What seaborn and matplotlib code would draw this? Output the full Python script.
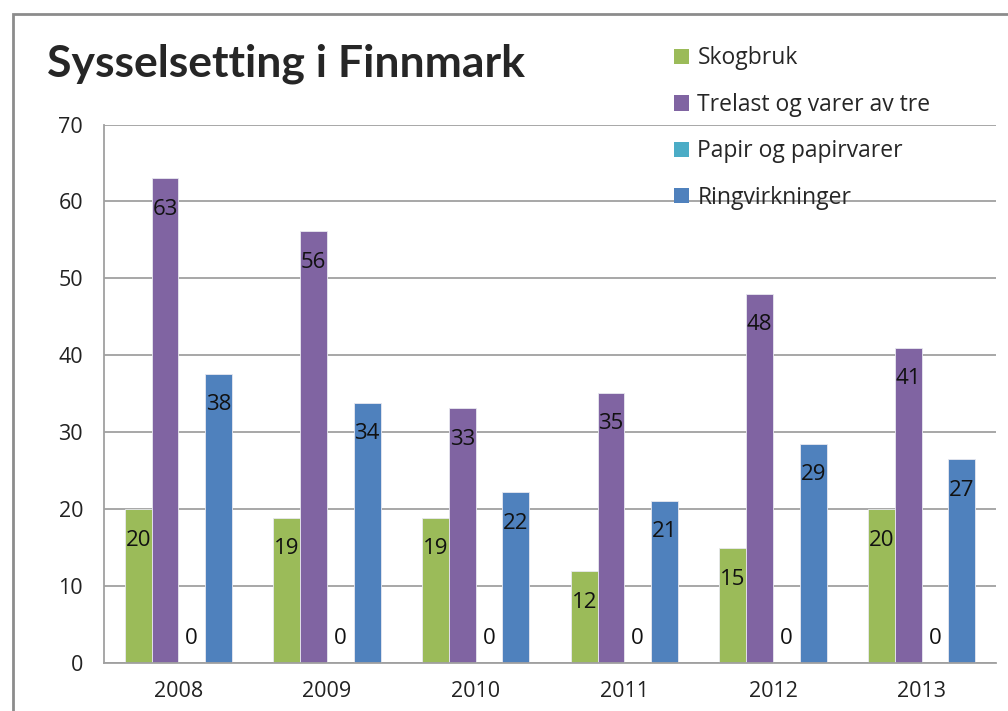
import pandas as pd
import seaborn as sns
import matplotlib.pyplot as plt
from matplotlib.patches import Patch, Rectangle

years = ["2008", "2009", "2010", "2011", "2012", "2013"]
skogbruk = [20.0, 18.9, 18.9, 11.9, 14.9, 20.0]
trelast = [63.0, 56.1, 33.1, 35.1, 48.0, 41.0]
papir = [0, 0, 0, 0, 0, 0]
ringvirkninger = [37.6, 33.8, 22.2, 21.1, 28.5, 26.5]

series = ["Skogbruk", "Trelast og varer av tre", "Papir og papirvarer", "Ringvirkninger"]
colors = ["#9BBB59", "#8064A2", "#4BACC6", "#4F81BD"]

rows = []
for name, vals in zip(series, [skogbruk, trelast, papir, ringvirkninger]):
    for y, v in zip(years, vals):
        rows.append({"year": y, "serie": name, "value": v})
df = pd.DataFrame(rows)

sns.set_style("white")
plt.rcParams["font.family"] = ["Open Sans", "DejaVu Sans"]

fig = plt.figure(figsize=(10.08, 7.11), dpi=100)
ax = fig.add_axes([104 / 1008, 1 - 663 / 711, 892 / 1008, (663 - 124.5) / 711])

sns.barplot(data=df, x="year", y="value", hue="serie", hue_order=series,
            palette=colors, width=0.72, ax=ax, legend=False,
            edgecolor="#e8e8f0", linewidth=0.6, saturation=1)

ax.set_ylim(0, 70)
ax.set_xlim(-0.5, 5.5)
ax.set_yticks(range(0, 71, 10))
ax.yaxis.grid(True, color="#a0a0a0", linewidth=1.3)
ax.set_axisbelow(True)
ax.set_xlabel("")
ax.set_ylabel("")
for s in ["top", "right"]:
    ax.spines[s].set_visible(False)
for s in ["left", "bottom"]:
    ax.spines[s].set_color("#a0a0a0")
    ax.spines[s].set_linewidth(1.3)
ax.tick_params(axis="y", direction="out", length=6, width=1.3, color="#a0a0a0",
               labelsize=15.5, labelcolor="#222222", pad=9)
ax.set_xticks([i - 0.5 for i in range(7)], minor=True)
ax.tick_params(axis="x", which="minor", direction="out", length=6, width=1.3, color="#a0a0a0")
ax.tick_params(axis="x", which="major", length=0, labelsize=15.5, labelcolor="#222222", pad=13)

# data labels
for cont in ax.containers:
    for bar in cont:
        h = bar.get_height()
        lab = str(int(h + 0.5))
        off = 25 if h == 0 else -31
        ax.annotate(lab, (bar.get_x() + bar.get_width() / 2, h),
                    xytext=(0, off), textcoords="offset pixels",
                    ha="center", va="center", fontsize=16, color="#111111")

handles = [Patch(facecolor=c, edgecolor="none") for c in colors]
fig.legend(handles, series, loc="upper left", bbox_to_anchor=(663 / 1008, 1 - 35 / 711),
           frameon=False, fontsize=16.5, handlelength=0.65, handleheight=0.65,
           handletextpad=0.35, labelspacing=0.98, borderpad=0)

fig.text(47 / 1008, 1 - 64 / 711, "Sysselsetting i Finnmark", fontsize=32,
         fontweight="bold", family=["Lato", "DejaVu Sans"], va="center", ha="left")

fig.patches.append(Rectangle((13 / 1008, -0.1), 1.2, 1 - 14 / 711 + 0.1,
                             transform=fig.transFigure, fill=False,
                             edgecolor="#8c8c8c", linewidth=2))

fig.savefig("out.png", dpi=100)
